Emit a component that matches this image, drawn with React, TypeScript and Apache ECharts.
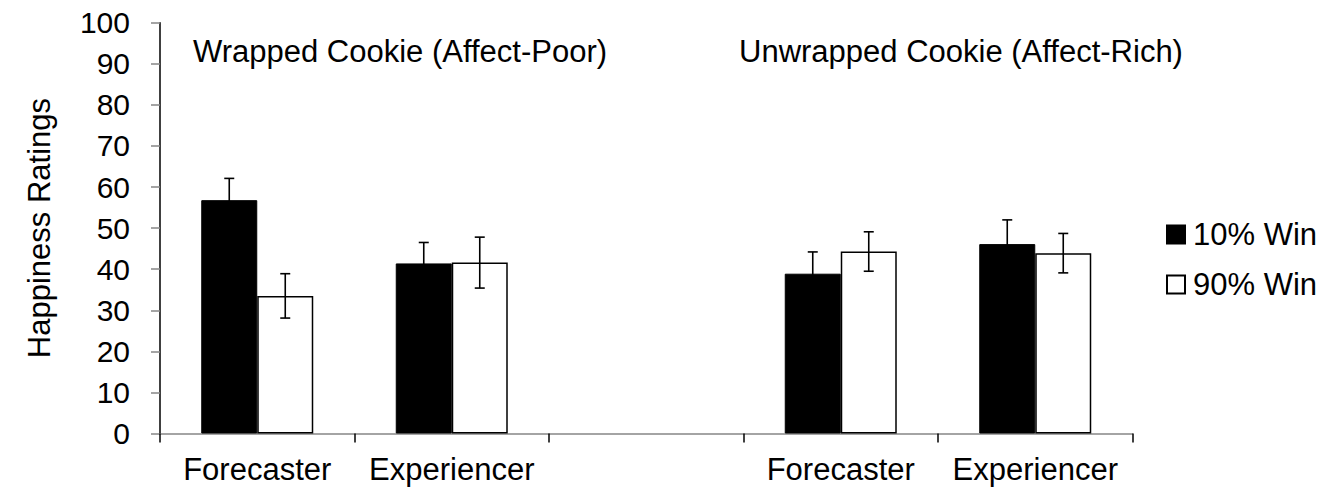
import React, { useEffect, useRef } from "react";
import * as echarts from "echarts";

const categories = ["Forecaster", "Experiencer", "", "Forecaster", "Experiencer"];
const win10 = [56.8, 41.4, null, 38.9, 46.1];
const win90 = [33.5, 41.6, null, 44.3, 43.9];
const err10 = [5.3, 5.1, null, 5.3, 5.9];
const err90 = [5.4, 6.2, null, 4.8, 4.8];
const yTicks = { min: 0, max: 100, interval: 10 };
const groupTitles = ["Wrapped Cookie (Affect-Poor)", "Unwrapped Cookie (Affect-Rich)"];
const seriesNames = ["10% Win", "90% Win"];

const FONT = "'Liberation Sans', Arial, sans-serif";
const BAR_W = 56;

export default function App() {
  const ref = useRef<HTMLDivElement>(null);
  useEffect(() => {
    document.body.style.margin = "0";
    if (!ref.current) return;
    const chart = echarts.init(ref.current, null, { renderer: "svg" });

    const errData: number[][] = [];
    categories.forEach((_, i) => {
      if (win10[i] != null && err10[i] != null) errData.push([i, win10[i] as number, err10[i] as number, -1]);
      if (win90[i] != null && err90[i] != null) errData.push([i, win90[i] as number, err90[i] as number, 1]);
    });

    const option: any = {
      animation: false,
      textStyle: { fontFamily: FONT },
      grid: { left: 160, right: 186.5, top: 22.7, bottom: 61.5, containLabel: false },
      legend: {
        data: seriesNames,
        icon: "rect",
        orient: "vertical",
        left: 1161,
        top: 214,
        itemWidth: 18,
        itemHeight: 18,
        itemGap: 19,
        textStyle: { fontSize: 31, color: "#000", fontFamily: FONT, padding: [0, 0, 0, 3] },
      },
      graphic: [
        {
          type: "text",
          left: 193,
          top: 36,
          style: { text: groupTitles[0], font: `31px ${FONT}`, fill: "#000" },
        },
        {
          type: "text",
          left: 739,
          top: 36,
          style: { text: groupTitles[1], font: `31px ${FONT}`, fill: "#000" },
        },
      ],
      xAxis: {
        type: "category",
        data: categories,
        boundaryGap: true,
        axisLine: { lineStyle: { color: "#868686", width: 1.5 } },
        axisTick: { show: true, interval: 0, alignWithLabel: false, length: 9, lineStyle: { color: "#000", width: 1.5 } },
        axisLabel: { interval: 0, fontSize: 31, color: "#000", margin: 20, fontFamily: FONT },
        splitLine: { show: false },
      },
      yAxis: {
        type: "value",
        min: yTicks.min,
        max: yTicks.max,
        interval: yTicks.interval,
        name: "Happiness Ratings",
        nameLocation: "middle",
        nameGap: 105,
        nameTextStyle: { fontSize: 31, color: "#000", fontFamily: FONT },
        axisLine: { show: true, lineStyle: { color: "#000", width: 1.5 } },
        axisTick: { show: true, length: 9, lineStyle: { color: "#868686", width: 1.5 } },
        axisLabel: { fontSize: 30, color: "#000", margin: 30, fontFamily: FONT },
        splitLine: { show: false },
      },
      series: [
        {
          name: seriesNames[0],
          type: "bar",
          data: win10,
          barWidth: BAR_W,
          barGap: "0%",
          itemStyle: { color: "#000", borderColor: "#000", borderWidth: 1 },
          z: 2,
        },
        {
          name: seriesNames[1],
          type: "bar",
          data: win90,
          barWidth: BAR_W,
          barGap: "0%",
          itemStyle: { color: "#fff", borderColor: "#000", borderWidth: 1.5 },
          z: 2,
        },
        {
          name: "error",
          type: "custom",
          data: errData,
          z: 5,
          silent: true,
          encode: { x: 0, y: 1 },
          renderItem: (params: any, api: any) => {
            const idx = api.value(0);
            const v = api.value(1);
            const e = api.value(2);
            const side = api.value(3);
            const top = api.coord([idx, v + e]);
            const bot = api.coord([idx, v - e]);
            const cx = top[0] + side * (BAR_W / 2);
            const cap = 5;
            const style = { stroke: "#000", lineWidth: 1.6 };
            return {
              type: "group",
              children: [
                { type: "line", shape: { x1: cx, y1: top[1], x2: cx, y2: bot[1] }, style },
                { type: "line", shape: { x1: cx - cap, y1: top[1], x2: cx + cap, y2: top[1] }, style },
                { type: "line", shape: { x1: cx - cap, y1: bot[1], x2: cx + cap, y2: bot[1] }, style },
              ],
            };
          },
        },
      ],
    };
    chart.setOption(option);
    return () => chart.dispose();
  }, []);
  return <div ref={ref} style={{ width: 1319, height: 495 }} />;
}
